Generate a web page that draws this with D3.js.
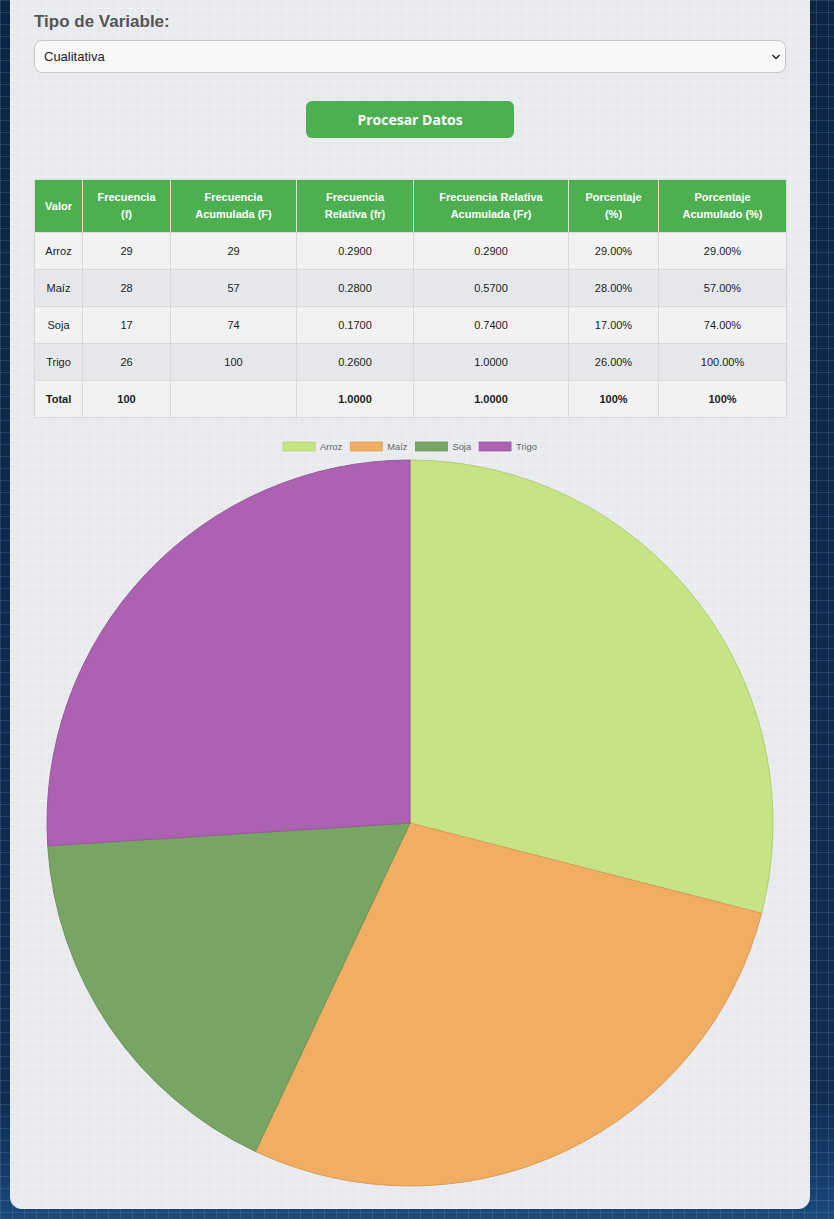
<!DOCTYPE html>
<html>
<head>
<meta charset="utf-8">
<script src="https://cdn.jsdelivr.net/npm/d3@7"></script>
<style>
  html, body { margin: 0; padding: 0; width: 834px; height: 1219px; overflow: hidden; }
  body {
    background-color: #0e2a4b;
    background-image:
      linear-gradient(rgba(120,160,210,0.22) 1px, transparent 1px),
      linear-gradient(90deg, rgba(120,160,210,0.22) 1px, transparent 1px),
      linear-gradient(180deg, #0c2545 0%, #0f2c50 90%, #163f6c 97%, #1b4a7c 100%);
    background-size: 12px 12px, 12px 12px, 100% 100%;
    font-family: "Liberation Sans", Arial, sans-serif;
    position: relative;
  }
  #card {
    position: absolute; left: 10px; top: -40px; width: 800px; height: 1249px;
    border-radius: 12px;
    background-color: #e8eaed;
    background-image:
      linear-gradient(rgba(255,255,255,0.25) 1px, transparent 1px),
      linear-gradient(90deg, rgba(255,255,255,0.25) 1px, transparent 1px);
    background-size: 12px 12px, 12px 12px;
  }
  #lbl { position: absolute; left: 34px; top: 12px; font-size: 17px; font-weight: bold; color: #555; }
  #sel {
    position: absolute; left: 34px; top: 40px; width: 750px; height: 31px;
    background: #f8f8f8; border: 1px solid #c8c8c8; border-radius: 8px;
    font-size: 13px; color: #222; line-height: 31px; box-sizing: content-box;
  }
  #sel span.t { position: absolute; left: 9px; }
  #sel svg.a { position: absolute; right: 4px; top: 13px; }
  #btn {
    position: absolute; left: 306px; top: 101px; width: 208px; height: 37px;
    background: #4caf50; border-radius: 6px; color: #fff;
    font-family: "Open Sans", sans-serif; font-weight: 700; font-size: 14px;
    text-align: center; line-height: 37px;
  }
  table {
    position: absolute; left: 34px; top: 179px; width: 752px;
    border-collapse: collapse; table-layout: fixed; font-size: 11px;
  }
  th, td { border: 1px solid #d8d8d8; text-align: center; padding: 0 4px; }
  th { background: #4caf50; color: #fff; font-weight: bold; height: 52px; line-height: 17px; border-color: #ddd; }
  td { height: 36px; color: #222; }
  tbody tr:nth-child(odd) td { background: #f2f2f2; }
  tbody tr:nth-child(even) td { background: rgba(228,230,233,0.85); }
  tr.total td { font-weight: bold; background: #f2f2f2 !important; }
  #chart { position: absolute; left: 34px; top: 430px; }
</style>
</head>
<body>
<div id="card"></div>
<div id="lbl">Tipo de Variable:</div>
<div id="sel"><span class="t">Cualitativa</span><svg class="a" width="10" height="6"><path d="M1.5,1 L5,4.5 L8.5,1" fill="none" stroke="#222" stroke-width="1.5"/></svg></div>
<div id="btn">Procesar Datos</div>
<table id="tbl"></table>
<svg id="chart" width="752" height="770"></svg>
<script>
const categories = ["Arroz", "Maíz", "Soja", "Trigo"];
const frequencies = [29, 28, 17, 26];
const colors = ["#c6e484", "#f1ad62", "#78a464", "#ad61b1"];
const headers = ["Valor", "Frecuencia<br>(f)", "Frecuencia<br>Acumulada (F)", "Frecuencia<br>Relativa (fr)",
  "Frecuencia Relativa<br>Acumulada (Fr)", "Porcentaje<br>(%)", "Porcentaje<br>Acumulado (%)"];
const colWidths = [48, 88, 126, 117, 155, 90, 128];

const total = d3.sum(frequencies);
let cum = 0;
const rows = categories.map((c, i) => {
  cum += frequencies[i];
  const fr = frequencies[i] / total, Fr = cum / total;
  return [c, frequencies[i], cum, fr.toFixed(4), Fr.toFixed(4), (fr * 100).toFixed(2) + "%", (Fr * 100).toFixed(2) + "%"];
});
const totalRow = ["Total", total, "", (1).toFixed(4), (1).toFixed(4), "100%", "100%"];

const tbl = d3.select("#tbl");
tbl.append("colgroup").selectAll("col").data(colWidths).join("col").style("width", d => d + "px");
tbl.append("thead").append("tr").selectAll("th").data(headers).join("th").html(d => d);
const tb = tbl.append("tbody");
tb.selectAll("tr.r").data(rows).join("tr").attr("class", "r")
  .selectAll("td").data(d => d).join("td").text(d => d);
tb.append("tr").attr("class", "total").selectAll("td").data(totalRow).join("td").text(d => d);

// Chart
const svg = d3.select("#chart");
const W = 752;
const cx = W / 2, cy = 393, R = 363;
const color = d3.scaleOrdinal().domain(categories).range(colors);

// Legend
const legend = svg.append("g");
const boxW = 32, boxH = 9, fs = 9.3, gapT = 5, pad = 8;
const items = legend.selectAll("g").data(categories).join("g");
items.append("rect").attr("width", boxW).attr("height", boxH)
  .attr("fill", d => color(d)).attr("stroke", d => d3.color(color(d)).darker(0.25)).attr("stroke-width", 0.8);
items.append("text").attr("x", boxW + gapT).attr("y", boxH / 2).attr("dy", "0.35em")
  .attr("font-size", fs).attr("fill", "#666").attr("font-family", "Liberation Sans, Arial, sans-serif").text(d => d);
let widths = [];
items.each(function() { widths.push(boxW + gapT + d3.select(this).select("text").node().getComputedTextLength()); });
const totalW = d3.sum(widths) + pad * (widths.length - 1);
let x0 = cx - totalW / 2;
items.attr("transform", (d, i) => { const x = x0; x0 += widths[i] + pad; return `translate(${x},12)`; });

// Pie
const pie = d3.pie().sort(null).value(d => d.v);
const arc = d3.arc().innerRadius(0).outerRadius(R);
const data = categories.map((c, i) => ({ c, v: frequencies[i] }));
svg.append("g").attr("transform", `translate(${cx},${cy})`)
  .selectAll("path").data(pie(data)).join("path")
  .attr("d", arc)
  .attr("fill", d => color(d.data.c))
  .attr("stroke", d => d3.color(color(d.data.c)).darker(0.3))
  .attr("stroke-width", 1);
</script>
</body>
</html>
